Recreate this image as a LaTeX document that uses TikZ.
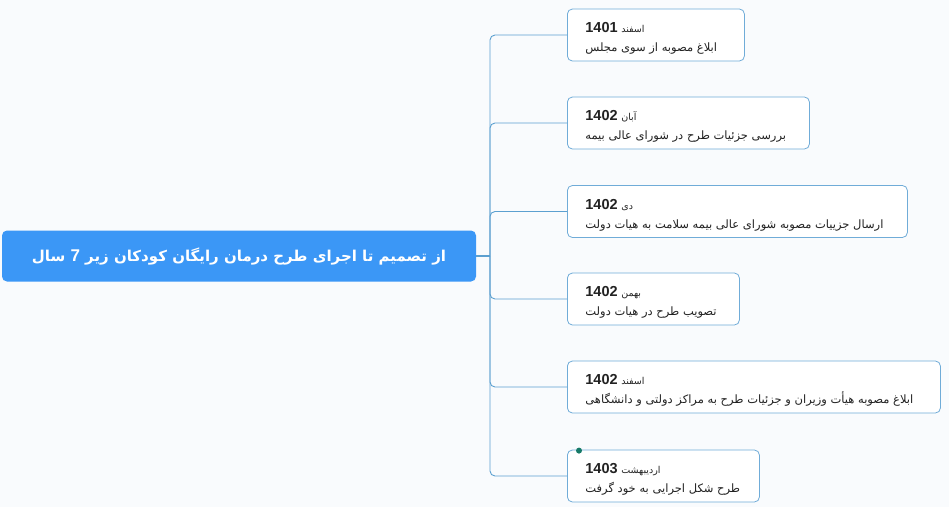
\documentclass[tikz,border=0pt]{standalone}
\usepackage{fontspec}
\TeXXeTstate=1
\newfontfamily\arabicfont[Script=Arabic]{DejaVu Sans}
\newfontfamily\numfont{Liberation Sans}
\definecolor{bg}{RGB}{249,251,253}
\definecolor{rootblue}{RGB}{59,151,246}
\definecolor{conncol}{RGB}{92,160,208}
\definecolor{boxline}{RGB}{112,172,216}
\definecolor{txt}{RGB}{34,34,34}
\definecolor{dotgreen}{RGB}{22,122,104}
\tikzset{
  rootbox/.style={draw=none, fill=rootblue, rounded corners=5pt, minimum width=474pt, minimum height=51pt, inner sep=0pt, text=white, font=\arabicfont\bfseries\fontsize{15}{18}\selectfont},
  childbox/.style={draw=boxline, line width=0.8pt, fill=white, rounded corners=5pt, minimum height=52pt, inner xsep=18pt, inner ysep=0pt, align=left, anchor=west, text=txt, font=\fontsize{11}{19}\selectfont},
  conn/.style={draw=conncol, line width=0.9pt, rounded corners=5pt},
  rootconn/.style={draw=conncol, line width=1.6pt},
}
\newcommand{\yr}[1]{{\numfont\bfseries\fontsize{14.5}{19}\selectfont\beginL #1\endL}}
\newcommand{\mon}[1]{{\arabicfont\fontsize{9.5}{19}\selectfont #1}}
\newcommand{\desc}[1]{{\arabicfont\fontsize{11.5}{19}\selectfont\beginR #1\endR}}
\newcommand{\tl}[2]{{\rule{0pt}{17pt}\beginR\mon{#1} \yr{#2}\endR}}
\begin{document}
\begin{tikzpicture}[x=1pt,y=1pt]
\fill[bg] (0,0) rectangle (949,-507);
\useasboundingbox (0,0) rectangle (949,-507);
\node[rootbox] (root) at (239,-256) {\beginR از تصمیم تا اجرای طرح درمان رایگان کودکان زیر \beginL{\numfont\bfseries\fontsize{17}{18}\selectfont 7}\endL{} سال\endR};
\coordinate (hub) at (490,-256);
\node[childbox, text width=141pt] (b1) at (567,-35) {\tl{اسفند}{1401}\\\desc{ابلاغ مصوبه از سوی مجلس}};
\node[childbox, text width=206pt] (b2) at (567,-123) {\tl{آبان}{1402}\\\desc{بررسی جزئیات طرح در شورای عالی بیمه}};
\node[childbox, text width=304pt] (b3) at (567,-211.5) {\tl{دی}{1402}\\\desc{ارسال جزییات مصوبه شورای عالی بیمه سلامت به هیات دولت}};
\node[childbox, text width=136pt] (b4) at (567,-299) {\tl{بهمن}{1402}\\\desc{تصویب طرح در هیات دولت}};
\node[childbox, text width=337pt] (b5) at (567,-387) {\tl{اسفند}{1402}\\\desc{ابلاغ مصوبه هیأت وزیران و جزئیات طرح به مراکز دولتی و دانشگاهی}};
\node[childbox, text width=156pt] (b6) at (567,-476) {\tl{اردیبهشت}{1403}\\\desc{طرح شکل اجرایی به خود گرفت}};
\draw[rootconn] (root.east) -- (hub);
\foreach \b in {b1,b2,b3,b4,b5,b6}{
  \draw[conn] (hub) |- (\b.west);
}
\node[circle, fill=dotgreen, inner sep=0pt, minimum size=6pt] (dot) at ([xshift=12pt,yshift=-1pt]b6.north west) {};
\end{tikzpicture}
\end{document}
